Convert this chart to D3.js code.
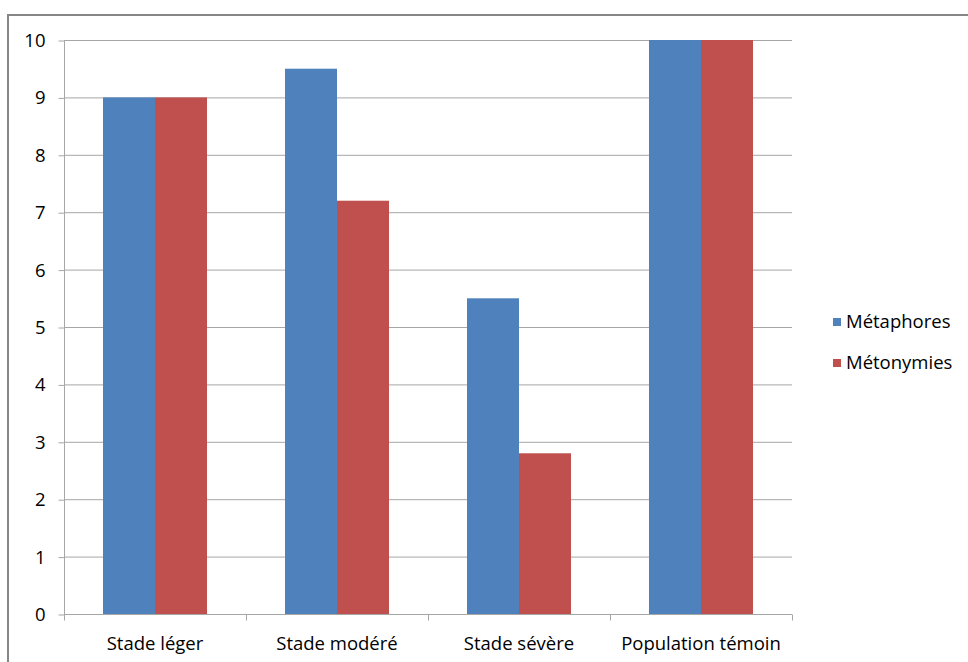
<!DOCTYPE html>
<html><head><meta charset="utf-8">
<script src="https://cdn.jsdelivr.net/npm/d3@7"></script>
<style>body{margin:0;background:#fff}svg{display:block}</style>
</head><body>
<script>
const categories = ["Stade léger", "Stade modéré", "Stade sévère", "Population témoin"];
const seriesNames = ["Métaphores", "Métonymies"];
const metaphores = [9, 9.5, 5.5, 10];
const metonymies = [9, 7.2, 2.8, 10];
const yTicks = [0,1,2,3,4,5,6,7,8,9,10];
const colors = ["#4F81BD", "#C0504D"];
const seriesValues = [metaphores, metonymies];

const W = 968, H = 662;
const svg = d3.select("body").append("svg").attr("width", W).attr("height", H);
const font = "'Open Sans', sans-serif";
const fs = 18.5;

// outer border
svg.append("rect").attr("x", 8).attr("y", 15).attr("width", 980).attr("height", 700)
  .attr("fill", "none").attr("stroke", "#868686").attr("stroke-width", 2);

const x0 = 64, x1 = 792, yTop = 40, yBot = 614;
const x = d3.scaleBand().domain(categories).range([x0, x1]).paddingInner(0).paddingOuter(0);
const y = d3.scaleLinear().domain([0, 10]).range([yBot, yTop]);
const groupFrac = 104 / 182;
const xs = d3.scaleBand().domain(seriesNames).range([0, x.bandwidth() * groupFrac]);

// gridlines
svg.append("g").selectAll("line").data(yTicks.filter(d => d > 0)).join("line")
  .attr("x1", x0).attr("x2", x1).attr("y1", d => y(d) + 0.5).attr("y2", d => y(d) + 0.5)
  .attr("stroke", "#A6A6A6").attr("stroke-width", 1);

// y axis
const yAxis = svg.append("g").attr("transform", `translate(${x0 + 0.5},0.5)`)
  .call(d3.axisLeft(y).tickValues(yTicks).tickSize(6).tickPadding(13).tickFormat(d3.format("d")));
yAxis.select(".domain").attr("stroke", "#A6A6A6").attr("d", `M0,${yTop}V${yBot}`);
yAxis.selectAll(".tick line").attr("stroke", "#A6A6A6");
yAxis.selectAll(".tick text").attr("font-family", font).attr("font-size", fs).attr("fill", "#000");

// bars
const groups = svg.append("g").selectAll("g").data(categories).join("g")
  .attr("transform", d => `translate(${x(d) + x.bandwidth() * (1 - groupFrac) / 2},0)`);
groups.selectAll("rect").data((d, i) => seriesNames.map((s, j) => ({s, v: seriesValues[j][i], j})))
  .join("rect")
  .attr("x", d => xs(d.s)).attr("width", xs.bandwidth())
  .attr("y", d => y(d.v)).attr("height", d => yBot - y(d.v))
  .attr("fill", d => colors[d.j]);

// x axis
const xAxisG = svg.append("g").attr("transform", `translate(0,${yBot + 0.5})`);
xAxisG.append("line").attr("x1", x0).attr("x2", x1).attr("stroke", "#A6A6A6");
const bounds = categories.map(c => x(c)).concat([x1]);
xAxisG.selectAll("line.tk").data(bounds).join("line").attr("class", "tk")
  .attr("x1", d => d + 0.5).attr("x2", d => d + 0.5).attr("y1", 0).attr("y2", 6).attr("stroke", "#A6A6A6");
xAxisG.selectAll("text").data(categories).join("text")
  .attr("x", d => x(d) + x.bandwidth() / 2).attr("y", 35)
  .attr("text-anchor", "middle").attr("font-family", font).attr("font-size", fs).attr("fill", "#000")
  .text(d => d);

// legend
const leg = svg.append("g").selectAll("g").data(seriesNames).join("g")
  .attr("transform", (d, i) => `translate(833,${318 + i * 41})`);
leg.append("rect").attr("width", 8).attr("height", 8).attr("fill", (d, i) => colors[i]);
leg.append("text").attr("x", 13).attr("y", 10).attr("font-family", font).attr("font-size", fs).attr("fill", "#000")
  .text(d => d);
</script>
</body></html>
